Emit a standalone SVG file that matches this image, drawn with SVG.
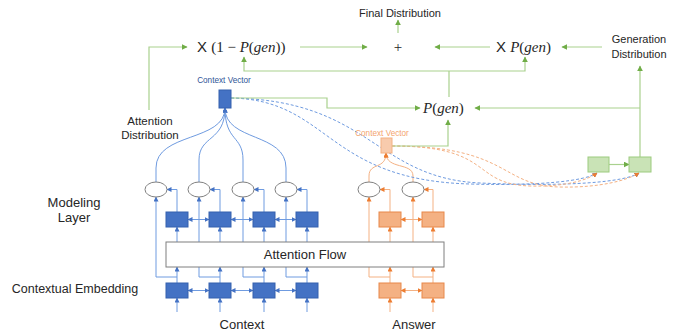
<svg xmlns="http://www.w3.org/2000/svg" width="680" height="332" viewBox="0 0 680 332">
  <style>
    .lbl { font-family: "Liberation Sans", Arial, sans-serif; fill: #262626; }
    .math { font-family: "Liberation Serif", "DejaVu Serif", serif; fill: #262626; }
    .it { font-style: italic; }
    .bl { stroke: #6F9BE0; stroke-width: 1; fill: none; }
    .or { stroke: #F4B183; stroke-width: 1; fill: none; }
    .gr { stroke: #A9D18E; stroke-width: 1.2; fill: none; }
    .dbl { stroke: #6F9BE0; stroke-width: 1; fill: none; stroke-dasharray: 3 2; }
    .dor { stroke: #F4B183; stroke-width: 1; fill: none; stroke-dasharray: 3 2; }
    .bbox { fill: #4472C4; stroke: #3460AE; stroke-width: 1; }
    .obox { fill: #F4B183; stroke: #E8884A; stroke-width: 1; }
    .gbox { fill: #C9E3B6; stroke: #9CCB7E; stroke-width: 1; }
    .cell { fill: #FFFFFF; stroke: #7F7F7F; stroke-width: 1; }
  </style>
  <defs>
    <marker id="ab" viewBox="0 0 10 10" refX="9" refY="5" markerWidth="5" markerHeight="5" markerUnits="userSpaceOnUse" orient="auto-start-reverse">
      <path d="M0,0 L10,5 L0,10 z" fill="#4472C4"/>
    </marker>
    <marker id="ao" viewBox="0 0 10 10" refX="9" refY="5" markerWidth="5" markerHeight="5" markerUnits="userSpaceOnUse" orient="auto-start-reverse">
      <path d="M0,0 L10,5 L0,10 z" fill="#ED7D31"/>
    </marker>
    <marker id="ag" viewBox="0 0 10 10" refX="9" refY="5" markerWidth="6" markerHeight="6" markerUnits="userSpaceOnUse" orient="auto-start-reverse">
      <path d="M0,0 L10,5 L0,10 z" fill="#70AD47"/>
    </marker>
  </defs>

  <!-- side labels -->
  <g id="labels">
    <text class="lbl" x="74" y="207" font-size="13" text-anchor="middle">Modeling</text>
    <text class="lbl" x="74" y="222" font-size="13" text-anchor="middle">Layer</text>
    <text class="lbl" x="75" y="293" font-size="12.5" text-anchor="middle">Contextual Embedding</text>
    <text class="lbl" x="242" y="329" font-size="13" text-anchor="middle">Context</text>
    <text class="lbl" x="414" y="329" font-size="13" text-anchor="middle">Answer</text>
    <text class="lbl" x="150" y="125" font-size="11.5" text-anchor="middle">Attention</text>
    <text class="lbl" x="150" y="139" font-size="11.5" text-anchor="middle">Distribution</text>
    <text class="lbl" x="400" y="17" font-size="11" text-anchor="middle">Final Distribution</text>
    <text class="lbl" x="639" y="43" font-size="11" text-anchor="middle">Generation</text>
    <text class="lbl" x="639" y="58" font-size="11" text-anchor="middle">Distribution</text>
  </g>

  <!-- connectors -->
  <g id="connectors">
    <!-- context encoder: inputs, embedding outputs, skip lines to the modeling cells -->
    <g id="context-lines">
      <path class="bl" d="M177,312 V298" marker-end="url(#ab)"/>
      <path class="bl" d="M220,312 V298" marker-end="url(#ab)"/>
      <path class="bl" d="M264,312 V298" marker-end="url(#ab)"/>
      <path class="bl" d="M307,312 V298" marker-end="url(#ab)"/>
      <path class="bl" d="M177,283 V267" marker-end="url(#ab)"/>
      <path class="bl" d="M220,283 V267" marker-end="url(#ab)"/>
      <path class="bl" d="M264,283 V267" marker-end="url(#ab)"/>
      <path class="bl" d="M307,283 V267" marker-end="url(#ab)"/>
      <path class="bl" d="M177,277 H156 V197" marker-end="url(#ab)"/>
      <path class="bl" d="M220,277 H199 V197" marker-end="url(#ab)"/>
      <path class="bl" d="M264,277 H243 V197" marker-end="url(#ab)"/>
      <path class="bl" d="M307,277 H286 V197" marker-end="url(#ab)"/>
      <path class="bl" d="M177,242 V227" marker-end="url(#ab)"/>
      <path class="bl" d="M220,242 V227" marker-end="url(#ab)"/>
      <path class="bl" d="M264,242 V227" marker-end="url(#ab)"/>
      <path class="bl" d="M307,242 V227" marker-end="url(#ab)"/>
      <path class="bl" d="M177,212 V189.5 H167" marker-end="url(#ab)"/>
      <path class="bl" d="M220,212 V189.5 H210" marker-end="url(#ab)"/>
      <path class="bl" d="M264,212 V189.5 H254" marker-end="url(#ab)"/>
      <path class="bl" d="M307,212 V189.5 H297" marker-end="url(#ab)"/>
      <!-- bidirectional links -->
      <path class="bl" d="M188,219.5 H209" marker-start="url(#ab)" marker-end="url(#ab)"/>
      <path class="bl" d="M231,219.5 H253" marker-start="url(#ab)" marker-end="url(#ab)"/>
      <path class="bl" d="M275,219.5 H296" marker-start="url(#ab)" marker-end="url(#ab)"/>
      <path class="bl" d="M188,290.5 H209" marker-start="url(#ab)" marker-end="url(#ab)"/>
      <path class="bl" d="M231,290.5 H253" marker-start="url(#ab)" marker-end="url(#ab)"/>
      <path class="bl" d="M275,290.5 H296" marker-start="url(#ab)" marker-end="url(#ab)"/>
      <!-- attention over the context cells -->
      <path class="bl" d="M156,182 V168 C156,132 225,142 225,108" marker-end="url(#ab)"/>
      <path class="bl" d="M199,182 V160 C199,135 225,142 225,108" marker-end="url(#ab)"/>
      <path class="bl" d="M243,182 V160 C243,135 225,142 225,108" marker-end="url(#ab)"/>
      <path class="bl" d="M286,182 V168 C286,132 225,142 225,108" marker-end="url(#ab)"/>
    </g>

    <!-- answer encoder -->
    <g id="answer-lines">
      <path class="or" d="M390,312 V298" marker-end="url(#ao)"/>
      <path class="or" d="M433,312 V298" marker-end="url(#ao)"/>
      <path class="or" d="M390,283 V267" marker-end="url(#ao)"/>
      <path class="or" d="M433,283 V267" marker-end="url(#ao)"/>
      <path class="or" d="M390,277 H369 V197" marker-end="url(#ao)"/>
      <path class="or" d="M433,277 H413 V197" marker-end="url(#ao)"/>
      <path class="or" d="M390,242 V227" marker-end="url(#ao)"/>
      <path class="or" d="M433,242 V227" marker-end="url(#ao)"/>
      <path class="or" d="M390,212 V189.5 H380" marker-end="url(#ao)"/>
      <path class="or" d="M433,212 V189.5 H424" marker-end="url(#ao)"/>
      <path class="or" d="M401,219.5 H422" marker-start="url(#ao)" marker-end="url(#ao)"/>
      <path class="or" d="M401,290.5 H422" marker-start="url(#ao)" marker-end="url(#ao)"/>
      <path class="or" d="M369,182 V176 C369,162 386,170 386,153" marker-end="url(#ao)"/>
      <path class="or" d="M413,182 V176 C413,162 386,170 386,153" marker-end="url(#ao)"/>
    </g>

    <!-- context vectors feeding the generator cells -->
    <g id="dashed-lines">
      <path class="dbl" d="M231,98 C330,100 325,180 470,184 C540,186 585,181 597,173" marker-end="url(#ab)"/>
      <path class="dbl" d="M231,98 C370,100 375,178 480,183 C570,187 625,182 639,173" marker-end="url(#ab)"/>
      <path class="dor" d="M392,146 C495,146 470,184 530,186 C565,187 588,180 597,173" marker-end="url(#ao)"/>
      <path class="dor" d="M392,146 C510,146 500,186 560,187 C600,188 628,180 639,173" marker-end="url(#ao)"/>
    </g>

    <!-- pointer-generator mixing -->
    <g id="mix-lines">
      <path class="gr" d="M149,110 V47 H187" marker-end="url(#ag)"/>
      <path class="gr" d="M300,47 H367" marker-end="url(#ag)"/>
      <path class="gr" d="M398,33 V20" marker-end="url(#ag)"/>
      <path class="gr" d="M490,47 H435" marker-end="url(#ag)"/>
      <path class="gr" d="M602,47 H562" marker-end="url(#ag)"/>
      <path class="gr" d="M231,98 H327 V108 H420" marker-end="url(#ag)"/>
      <path class="gr" d="M392,146 H448 V120" marker-end="url(#ag)"/>
      <path class="gr" d="M449,97 V71"/>
      <path class="gr" d="M449,71 H244 V57" marker-end="url(#ag)"/>
      <path class="gr" d="M449,71 H525 V57" marker-end="url(#ag)"/>
      <path class="gr" d="M640,157 V66" marker-end="url(#ag)"/>
      <path class="gr" d="M640,108 H475" marker-end="url(#ag)"/>
      <path class="gr" d="M609,164.5 H629" marker-end="url(#ag)"/>
    </g>
  </g>

  <!-- shared attention-flow layer -->
  <g id="attention-flow">
    <rect class="cell" x="166" y="242" width="278" height="25"/>
    <text class="lbl" x="305" y="259" font-size="13" text-anchor="middle">Attention Flow</text>
  </g>

  <!-- context encoder cells -->
  <g id="context-embedding">
    <rect class="bbox" x="166" y="283" width="22" height="15"/>
    <rect class="bbox" x="209" y="283" width="22" height="15"/>
    <rect class="bbox" x="253" y="283" width="22" height="15"/>
    <rect class="bbox" x="296" y="283" width="22" height="15"/>
  </g>
  <g id="context-modeling">
    <rect class="bbox" x="166" y="212" width="22" height="15"/>
    <rect class="bbox" x="209" y="212" width="22" height="15"/>
    <rect class="bbox" x="253" y="212" width="22" height="15"/>
    <rect class="bbox" x="296" y="212" width="22" height="15"/>
  </g>
  <g id="context-outputs">
    <ellipse class="cell" cx="156" cy="189.5" rx="11" ry="7.5"/>
    <ellipse class="cell" cx="199" cy="189.5" rx="11" ry="7.5"/>
    <ellipse class="cell" cx="243" cy="189.5" rx="11" ry="7.5"/>
    <ellipse class="cell" cx="286" cy="189.5" rx="11" ry="7.5"/>
  </g>

  <!-- answer encoder cells -->
  <g id="answer-embedding">
    <rect class="obox" x="379" y="283" width="22" height="15"/>
    <rect class="obox" x="422" y="283" width="22" height="15"/>
  </g>
  <g id="answer-modeling">
    <rect class="obox" x="379" y="212" width="22" height="15"/>
    <rect class="obox" x="422" y="212" width="22" height="15"/>
  </g>
  <g id="answer-outputs">
    <ellipse class="cell" cx="369" cy="189.5" rx="11" ry="7.5"/>
    <ellipse class="cell" cx="413" cy="189.5" rx="11" ry="7.5"/>
  </g>

  <!-- context vectors -->
  <g id="context-vector">
    <rect class="bbox" x="219" y="90" width="12" height="18"/>
    <text x="224" y="83" font-size="8.2" text-anchor="middle" font-family="Liberation Sans, Arial, sans-serif" fill="#2F5597">Context Vector</text>
  </g>
  <g id="answer-vector">
    <rect x="381" y="138" width="11" height="15" fill="#F8CBAD" stroke="#F4B183" stroke-width="1"/>
    <text x="382" y="136" font-size="8.2" text-anchor="middle" font-family="Liberation Sans, Arial, sans-serif" fill="#F4A46E">Context Vector</text>
  </g>

  <!-- generator cells -->
  <g id="generator">
    <rect class="gbox" x="588" y="157" width="21" height="15"/>
    <rect class="gbox" x="629" y="157" width="22" height="15"/>
  </g>

  <!-- mixing terms -->
  <g id="p-gen">
    <text class="math" x="423" y="113" font-size="15"><tspan class="it">P</tspan>(<tspan class="it">gen</tspan>)</text>
  </g>
  <g id="copy-term">
    <text class="math" x="197" y="52" font-size="15"><tspan font-family="Liberation Sans, Arial, sans-serif">X </tspan>(1 − <tspan class="it">P</tspan>(<tspan class="it">gen</tspan>))</text>
  </g>
  <g id="gen-term">
    <text class="math" x="496" y="52" font-size="15"><tspan font-family="Liberation Sans, Arial, sans-serif">X </tspan><tspan class="it">P</tspan>(<tspan class="it">gen</tspan>)</text>
  </g>
  <g id="sum">
    <text class="math" x="398" y="52" font-size="15" text-anchor="middle">+</text>
  </g>
</svg>
